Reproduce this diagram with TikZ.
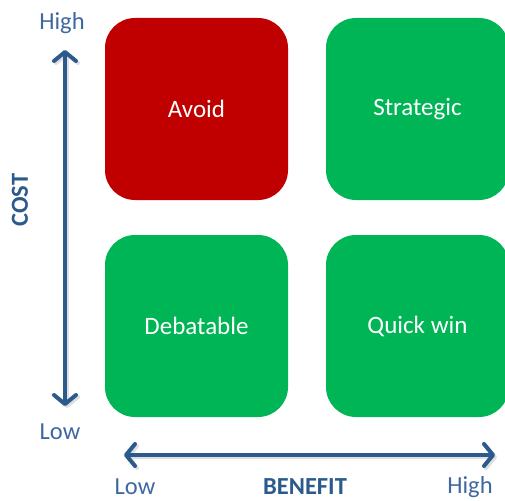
\documentclass[tikz,border=0pt]{standalone}
\usepackage{fontspec}
\setmainfont{Carlito}
\usetikzlibrary{arrows.meta}
\definecolor{axblue}{HTML}{2B5A8C}
\definecolor{lblblue}{HTML}{3F68A0}
\definecolor{boxred}{HTML}{C00000}
\definecolor{boxgreen}{HTML}{00B555}
\begin{document}
\begin{tikzpicture}[x=1pt,y=-1pt,
  quad/.style={rectangle, rounded corners=30pt, minimum width=183pt, minimum height=182pt, inner sep=0pt, text=white, font=\fontsize{25}{30}\selectfont},
  axis/.style={line width=4pt, color=axblue, {Straight Barb[length=9pt,width=22pt,line width=4pt,round]}-{Straight Barb[length=9pt,width=22pt,line width=4pt,round]}},
  axshadow/.style={axis, color=black!25, opacity=0.5},
  lbl/.style={text=lblblue, font=\fontsize{24.5}{29}\selectfont},
  axtitle/.style={text=axblue, font=\fontsize{24.5}{29}\selectfont\bfseries}]
\useasboundingbox (0,0) rectangle (505,500);
\node[quad, fill=boxred] (avoid) at (196.5,109) {Avoid};
\node[quad, fill=boxgreen] (strat) at (417.5,109) {Strategic};
\node[quad, fill=boxgreen] (deb) at (196.5,326) {Debatable};
\node[quad, fill=boxgreen] (quick) at (417.5,326) {Quick win};
\coordinate (vt) at (65,50);
\coordinate (vb) at (65,406);
\coordinate (hl) at (124,455);
\coordinate (hr) at (495,455);
\draw[axshadow] ([shift={(2,2)}]vt) -- ([shift={(2,2)}]vb);
\draw[axshadow] ([shift={(2,2)}]hl) -- ([shift={(2,2)}]hr);
\draw[axis] (vt) -- (vb);
\draw[axis] (hl) -- (hr);
\node[lbl] (chigh) at (62,23) {High};
\node[lbl] (clow) at (60,432) {Low};
\node[lbl] (blow) at (135,487) {Low};
\node[lbl] (bhigh) at (470,487) {High};
\node[axtitle] (benefit) at (305,487) {BENEFIT};
\node[axtitle, rotate=90] (cost) at (20,200) {COST};
\end{tikzpicture}
\end{document}
